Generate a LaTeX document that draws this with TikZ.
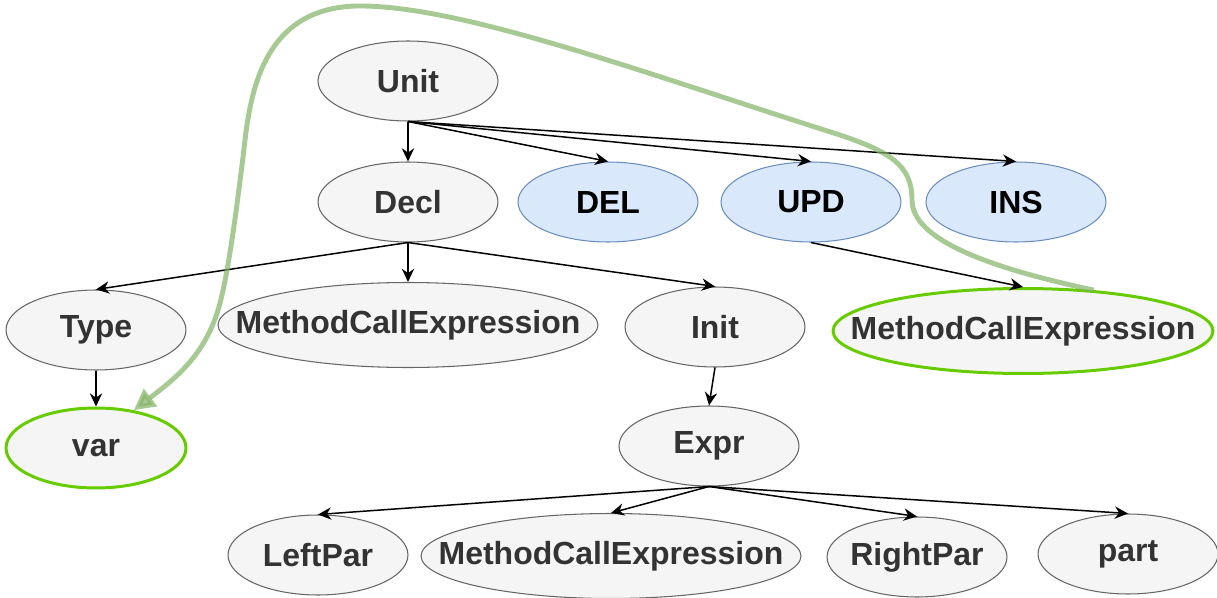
\documentclass[tikz,border=0pt]{standalone}
\usepackage{fontspec}
\setmainfont{Liberation Sans}
\usepackage{tikz}
\usetikzlibrary{shapes.geometric, arrows.meta}

\definecolor{treefill}{HTML}{F5F5F5}
\definecolor{treeline}{HTML}{666666}
\definecolor{treetext}{HTML}{333333}
\definecolor{opfill}{HTML}{DAE8FC}
\definecolor{opline}{HTML}{6C8EBF}
\definecolor{hitgreen}{HTML}{66CC00}
\definecolor{movegreen}{HTML}{82B366}

\begin{document}
\begin{tikzpicture}[x=0.02cm, y=-0.02cm,
    tree/.style={ellipse, draw=treeline, fill=treefill, text=treetext, line width=0.6pt,
      minimum width=3.6cm, minimum height=1.6cm, inner sep=0pt, inner xsep=-1.5cm,
      font=\fontsize{18.2}{20}\selectfont\bfseries},
    wide/.style={tree, minimum width=7.6cm, minimum height=1.7cm},
    op/.style={tree, draw=opline, fill=opfill, text=black},
    hit/.style={draw=hitgreen, line width=1.7pt},
    child/.style={line width=0.85pt, -{Stealth[length=7.5pt, width=7pt]}},
    move/.style={draw=movegreen, opacity=0.7, line width=2.8pt,
      -{Triangle[length=12pt, width=12pt]}}]
    \useasboundingbox (0,0) rectangle (1217,598);
    \node[tree] (unit) at (408,81) {Unit};
    \node[tree] (decl) at (408,202) {Decl};
    \node[op] (del) at (608,202) {DEL};
    \node[op] (upd) at (811,202) {UPD};
    \node[op] (ins) at (1016,202) {INS};
    \node[tree] (type) at (96,330) {Type};
    \node[wide] (mcea) at (408,325) {MethodCallExpression};
    \node[tree] (init) at (715,327) {Init};
    \node[wide, hit] (mceb) at (1023,331) {MethodCallExpression};
    \node[tree, hit] (var) at (96,448) {var};
    \node[tree] (expr) at (709,446) {Expr};
    \node[tree] (lpar) at (318,555) {LeftPar};
    \node[wide] (mcec) at (611,556) {MethodCallExpression};
    \node[tree] (rpar) at (917,557) {RightPar};
    \node[tree] (part) at (1128,554) {part};
    \path[child]
    (unit.south) edge (decl.north)
    (unit.south) edge (del.north)
    (unit.south) edge (upd.north)
    (unit.south) edge (ins.north)
    (decl.south) edge (type.north)
    (decl.south) edge (mcea.north)
    (decl.south) edge (init.north)
    (upd.south) edge (mceb.north)
    (type.south) edge (var.north)
    (init.south) edge (expr.north)
    (expr.south) edge (lpar.north)
    (expr.south) edge (mcec.north)
    (expr.south) edge (rpar.north)
    (expr.south) edge (part.north);
    \draw[move] (mceb.30)
      .. controls (990,268) and (912,240) .. (912,200)
      .. controls (912,165) and (890,152) .. (840,135)
      .. controls (650,75) and (470,8) .. (364,6)
      .. controls (270,4) and (252,80) .. (245,140)
      .. controls (238,200) and (230,260) .. (222,295)
      .. controls (210,350) and (180,375) .. (var.45);
  \end{tikzpicture}
\end{document}
